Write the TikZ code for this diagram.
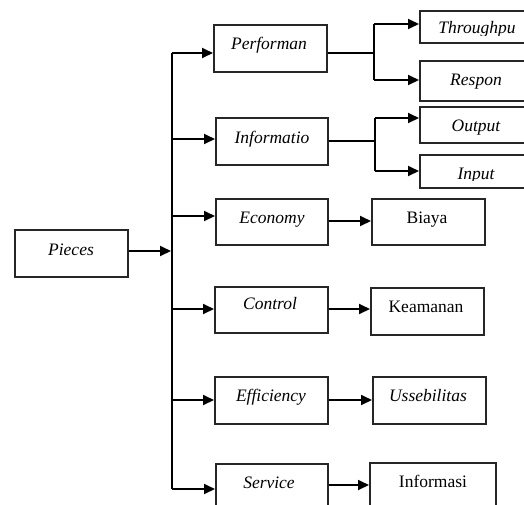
\documentclass[tikz,border=0pt]{standalone}
\usepackage{fontspec}
\setmainfont{Liberation Serif}
\usetikzlibrary{arrows.meta}
\tikzset{
  box/.style={draw=black!85, line width=1.6pt, inner sep=0pt, anchor=north west},
  lbl/.style={inner sep=0pt, anchor=base, font=\fontsize{17.5}{20}\selectfont\itshape},
  lblu/.style={inner sep=0pt, anchor=base, font=\fontsize{17.5}{20}\selectfont},
  conn/.style={line width=1.8pt, black},
  arr/.style={conn, -{Triangle[length=11pt,width=10pt]}}
}
\begin{document}
\begin{tikzpicture}[x=1pt,y=-1pt]
\useasboundingbox (0,0) rectangle (524,504);
\clip (0,0) rectangle (524,504);
% boxes
\node[box, minimum width=113, minimum height=47] (pieces) at (14,229) {};
\node[box, minimum width=113, minimum height=47] (perf) at (213,24) {};
\node[box, minimum width=113, minimum height=32] (thr) at (419,10) {};
\node[box, minimum width=113, minimum height=40] (resp) at (419,60) {};
\node[box, minimum width=112, minimum height=47] (info) at (215,117) {};
\node[box, minimum width=113, minimum height=36] (out) at (419,106) {};
\node[box, minimum width=113, minimum height=33] (inp) at (419,154) {};
\node[box, minimum width=112, minimum height=46] (econ) at (215,198) {};
\node[box, minimum width=113, minimum height=46] (biaya) at (371,198) {};
\node[box, minimum width=113, minimum height=46] (ctrl) at (214,286) {};
\node[box, minimum width=113, minimum height=47] (keam) at (370,287) {};
\node[box, minimum width=113, minimum height=47] (eff) at (214,376) {};
\node[box, minimum width=113, minimum height=47] (uss) at (372,376) {};
\node[box, minimum width=112, minimum height=50] (serv) at (215,463) {};
\node[box, minimum width=126, minimum height=50] (infm) at (369,462) {};
% labels
\node[lbl] (piecesL) at (71,255) {Pieces};
\node[lbl] (perfL) at (269,49) {Performan};
\begin{scope}
\clip (419,10) rectangle (532,35);
\node[lbl] (thrL) at (477,33) {Throughpu};
\end{scope}
\node[lbl] (respL) at (476,85) {Respon};
\node[lbl] (infoL) at (272,143) {Informatio};
\node[lbl] (outL) at (476,131) {Output};
\begin{scope}
\clip (419,154) rectangle (532,180.5);
\node[lbl] (inpL) at (476,179) {Input};
\end{scope}
\node[lbl] (econL) at (272,223) {Economy};
\node[lblu] (biayaL) at (427,223) {Biaya};
\node[lbl] (ctrlL) at (270,309) {Control};
\node[lblu] (keamL) at (426,312) {Keamanan};
\node[lbl] (effL) at (271,401) {Efficiency};
\node[lbl] (ussL) at (428,401) {Ussebilitas};
\node[lbl] (servL) at (269,488) {Service};
\node[lblu] (infmL) at (433,487) {Informasi};
% trunk
\coordinate (t1) at (172,53);
\coordinate (t2) at (172,139);
\coordinate (t3) at (172,216);
\coordinate (t4) at (172,309);
\coordinate (t5) at (172,400);
\coordinate (t6) at (172,489);
\draw[conn] (t1) -- (t6);
\draw[arr] (pieces.east |- 0,251) -- (171,251);
\draw[arr] (t1) -- (t1 -| perf.west);
\draw[arr] (t2) -- (t2 -| info.west);
\draw[arr] (t3) -- (t3 -| econ.west);
\draw[arr] (t4) -- (t4 -| ctrl.west);
\draw[arr] (t5) -- (t5 -| eff.west);
\draw[arr] (t6) -- (t6 -| serv.west);
% performan branch
\coordinate (pb) at (374,53);
\coordinate (pb1) at (374,24);
\coordinate (pb2) at (374,80);
\draw[conn] (perf.east |- pb) -- (pb);
\draw[conn] (pb1) -- (pb2);
\draw[arr] (pb1) -- (pb1 -| thr.west);
\draw[arr] (pb2) -- (pb2 -| resp.west);
% informatio branch
\coordinate (ib) at (375,141);
\coordinate (ib1) at (375,118);
\coordinate (ib2) at (375,171);
\draw[conn] (info.east |- ib) -- (ib);
\draw[conn] (ib1) -- (ib2);
\draw[arr] (ib1) -- (ib1 -| out.west);
\draw[arr] (ib2) -- (ib2 -| inp.west);
% direct arrows
\draw[arr] (econ.east |- 0,221) -- (biaya.west |- 0,221);
\draw[arr] (ctrl.east |- 0,309) -- (keam.west |- 0,309);
\draw[arr] (eff.east |- 0,400) -- (uss.west |- 0,400);
\draw[arr] (serv.east |- 0,485) -- (infm.west |- 0,485);
\end{tikzpicture}
\end{document}
